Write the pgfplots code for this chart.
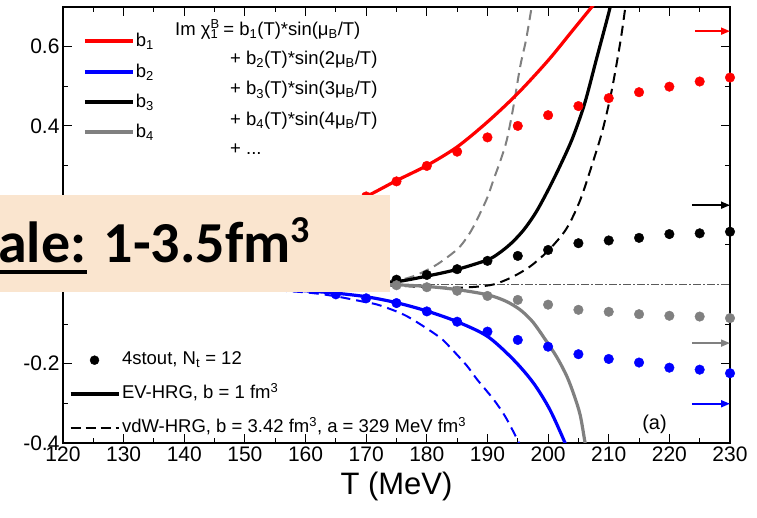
\documentclass[border=0pt]{standalone}
\usepackage{fontspec}
\setmainfont{Liberation Sans}
\newfontfamily\boxfont{Carlito}
\usepackage{pgfplots}
\pgfplotsset{compat=1.18}
\usetikzlibrary{arrows.meta,calc}

\definecolor{sbpeach}{RGB}{250,229,207}
\definecolor{bgray}{RGB}{128,128,128}
\definecolor{zgray}{RGB}{90,90,90}

\newcommand{\fs}[1]{\fontsize{#1}{#1}\selectfont}

\begin{document}
\begin{tikzpicture}
\begin{axis}[
  width=667pt, height=436pt, scale only axis,
  xmin=120, xmax=230, ymin=-0.4, ymax=0.7,
  xtick={120,130,...,230}, minor x tick num=1,
  ytick={-0.4,-0.2,0,0.2,0.4,0.6}, minor y tick num=1,
  tick align=inside, major tick length=9pt, minor tick length=5pt,
  axis line style={line width=1.4pt},
  every tick/.style={black, line width=1pt},
  /pgf/number format/assume math mode=true,
  every tick label/.append style={font=\fs{21}},
  yticklabel style={/pgf/number format/fixed, /pgf/number format/fixed zerofill,
    /pgf/number format/precision=1},
  xlabel={T (MeV)}, xlabel style={font=\fs{31}, yshift=-4pt},
  legend style={at={(axis description cs:0.008,0.01)}, anchor=south west,
    draw=none, fill=none, inner sep=0pt, font=\fs{18.5}, row sep=13.5pt,
    nodes={inner sep=1.5pt, text height=13.5pt, text depth=4pt}},
  legend cell align=left,
  legend image code/.code={\draw[mark repeat=2,mark phase=2,#1]
    plot coordinates {(0pt,0pt) (24pt,0pt) (48pt,0pt)};},
]
\coordinate (SW) at (rel axis cs:0,0);

% legend (bottom left)
\addlegendimage{only marks, mark=*, mark size=4.5pt, black}
\addlegendentry{4stout, N\textsubscript{t} = 12}
\addlegendimage{black, line width=4pt}
\addlegendentry{EV-HRG, b = 1 fm\textsuperscript{3}}
\addlegendimage{black, line width=2pt, dash pattern=on 10pt off 5pt}
\addlegendentry{vdW-HRG, b = 3.42 fm\textsuperscript{3}, a = 329 MeV fm\textsuperscript{3}}

% zero line
\addplot[zgray, line width=0.9pt, dash pattern=on 8pt off 2pt on 2pt off 2pt, forget plot]
  coordinates {(120,0) (230,0)};

% vdW-HRG (dashed)
\addplot[bgray, line width=2pt, dash pattern=on 10pt off 6pt, smooth, forget plot] coordinates {
  (150,0) (165,0.002) (170,0.004) (175,0.010) (178,0.022) (181.1,0.045) (183.5,0.07)
  (185.5,0.096) (187.3,0.135) (188.8,0.18) (190,0.22) (191,0.264) (192.2,0.315)
  (193.2,0.365) (194.3,0.45) (195.4,0.55) (196.4,0.62) (197.5,0.72)};
\addplot[black, line width=2pt, dash pattern=on 10pt off 6pt, smooth, forget plot] coordinates {
  (150,0) (160,0) (170,-0.002) (175,-0.003) (180,-0.007) (185,-0.008) (188,-0.006)
  (191,0.0) (194,0.018) (197,0.045) (200,0.085) (203,0.14) (205.3,0.213)
  (207.5,0.314) (209,0.39) (210.5,0.49) (212,0.62) (213,0.73)};
\addplot[blue, line width=2pt, dash pattern=on 10pt off 6pt, smooth, forget plot] coordinates {
  (150,-0.01) (160,-0.02) (165,-0.03) (170,-0.045) (172.3,-0.053) (176.7,-0.08)
  (182,-0.132) (184.1,-0.163) (186.6,-0.205) (188.2,-0.238) (191,-0.29)
  (193,-0.335) (195.2,-0.40) (195.6,-0.42)};

% EV-HRG (solid)
\addplot[red, line width=3.2pt, smooth, forget plot] coordinates {
  (150,0.11) (155,0.135) (160,0.16) (165,0.19) (170,0.222) (175,0.262) (180,0.300)
  (185,0.347) (190,0.410) (195,0.482) (200,0.565) (204,0.64) (208,0.715)};
\addplot[blue, line width=3.2pt, smooth, forget plot] coordinates {
  (150,-0.008) (155,-0.011) (160,-0.016) (165,-0.022) (170,-0.031) (175,-0.046)
  (180,-0.067) (185,-0.094) (190,-0.131) (194.3,-0.19) (197.6,-0.249)
  (200.3,-0.316) (202.8,-0.40) (203.2,-0.42)};
\addplot[black, line width=3.2pt, smooth, forget plot] coordinates {
  (150,0.0) (160,0.0) (165,0.001) (170,0.003) (175,0.007) (180,0.021) (185,0.038)
  (190,0.062) (192,0.08) (194,0.105) (196,0.138) (198,0.182) (200,0.238) (202,0.30)
  (204,0.368) (206,0.455) (208,0.57) (210,0.685) (210.5,0.72)};
\addplot[bgray, line width=3.2pt, smooth, forget plot] coordinates {
  (150,0) (165,0) (170,0.0) (175,-0.001) (180,-0.005) (185,-0.013) (190,-0.026)
  (193,-0.042) (195.4,-0.064) (197.5,-0.095) (199.8,-0.145) (201.5,-0.185)
  (203.1,-0.232) (204.3,-0.28) (205.3,-0.33) (206.1,-0.40) (206.4,-0.43)};

% lattice 4stout, Nt = 12
\addplot[only marks, mark=*, mark size=4.8pt, red, forget plot] coordinates {
  (165,0.185) (170,0.222) (175,0.260) (180,0.299) (185,0.335) (190,0.371) (195,0.400)
  (200,0.427) (205,0.450) (210,0.470) (215,0.485) (220,0.499) (225,0.512) (230,0.522)};
\addplot[only marks, mark=*, mark size=4.8pt, black, forget plot] coordinates {
  (165,0.003) (170,0.006) (175,0.012) (180,0.024) (185,0.0385) (190,0.0595) (195,0.072)
  (200,0.087) (205,0.104) (210,0.111) (215,0.1175) (220,0.127) (225,0.129) (230,0.133)};
\addplot[only marks, mark=*, mark size=4.8pt, bgray, forget plot] coordinates {
  (165,-0.001) (170,-0.002) (175,-0.002) (180,-0.007) (185,-0.016) (190,-0.029) (195,-0.039)
  (200,-0.051) (205,-0.064) (210,-0.069) (215,-0.075) (220,-0.079) (225,-0.081) (230,-0.085)};
\addplot[only marks, mark=*, mark size=4.8pt, blue, forget plot] coordinates {
  (165,-0.025) (170,-0.035) (175,-0.047) (180,-0.068) (185,-0.094) (190,-0.119) (195,-0.140)
  (200,-0.157) (205,-0.176) (210,-0.188) (215,-0.197) (220,-0.210) (225,-0.215) (230,-0.224)};

% limits (arrows at right)
\addplot[red, line width=1.8pt, -{Triangle[length=9pt,width=7pt]}, forget plot]
  coordinates {(224.2,0.639) (230,0.639)};
\addplot[black, line width=1.8pt, -{Triangle[length=9pt,width=7pt]}, forget plot]
  coordinates {(223.7,0.200) (230,0.200)};
\addplot[bgray, line width=1.8pt, -{Triangle[length=9pt,width=7pt]}, forget plot]
  coordinates {(223.7,-0.148) (230,-0.148)};
\addplot[blue, line width=1.8pt, -{Triangle[length=9pt,width=7pt]}, forget plot]
  coordinates {(223.7,-0.301) (230,-0.301)};

% legend b1..b4 (top left)
\addplot[red, line width=4.2pt, forget plot] coordinates {(123.6,0.614) (131.5,0.614)}
  node[pos=1, anchor=west, inner sep=1pt, text=black, font=\fs{18.5}] {b\textsubscript{1}};
\addplot[blue, line width=4.2pt, forget plot] coordinates {(123.6,0.536) (131.5,0.536)}
  node[pos=1, anchor=west, inner sep=1pt, text=black, font=\fs{18.5}] {b\textsubscript{2}};
\addplot[black, line width=4.2pt, forget plot] coordinates {(123.6,0.460) (131.5,0.460)}
  node[pos=1, anchor=west, inner sep=1pt, text=black, font=\fs{18.5}] {b\textsubscript{3}};
\addplot[bgray, line width=4.2pt, forget plot] coordinates {(123.6,0.385) (131.5,0.385)}
  node[pos=1, anchor=west, inner sep=1pt, text=black, font=\fs{18.5}] {b\textsubscript{4}};

% formula
\node[anchor=base west, inner sep=0pt, font=\fs{18.5}] at (axis cs:138.47,0.629)
  {Im χ\makebox[0pt][l]{\textsuperscript{B}}\textsubscript{1} = b\textsubscript{1}(T)*sin(μ\textsubscript{B}/T)};
\node[anchor=base west, inner sep=0pt, font=\fs{18.5}] at (axis cs:147.54,0.554)
  {+ b\textsubscript{2}(T)*sin(2μ\textsubscript{B}/T)};
\node[anchor=base west, inner sep=0pt, font=\fs{18.5}] at (axis cs:147.54,0.478)
  {+ b\textsubscript{3}(T)*sin(3μ\textsubscript{B}/T)};
\node[anchor=base west, inner sep=0pt, font=\fs{18.5}] at (axis cs:147.54,0.402)
  {+ b\textsubscript{4}(T)*sin(4μ\textsubscript{B}/T)};
\node[anchor=base west, inner sep=0pt, font=\fs{18.5}] at (axis cs:147.54,0.327)
  {+ ...};

\node[anchor=base west, inner sep=0pt, font=\fs{20}] at (axis cs:215.5,-0.367) {(a)};
\end{axis}

% slide overlay box, image pixel coordinates (origin top left)
\begin{scope}[shift={($(SW)+(-63pt,443pt)$)}, x=1pt, y=-1pt]
  \fill[sbpeach] (-5,195) rectangle (390,292);
  \node[anchor=base west, inner sep=0pt, font=\boxfont\bfseries\fs{58}] at (-2,263)
    {ale: 1-3.5fm\raisebox{0.36em}{\fs{38}3}};
  \fill[black] (-2,270) rectangle (87,274);
  \pgfresetboundingbox
  \path[use as bounding box] (0,0) rectangle (757,518);
\end{scope}
\end{tikzpicture}
\end{document}
